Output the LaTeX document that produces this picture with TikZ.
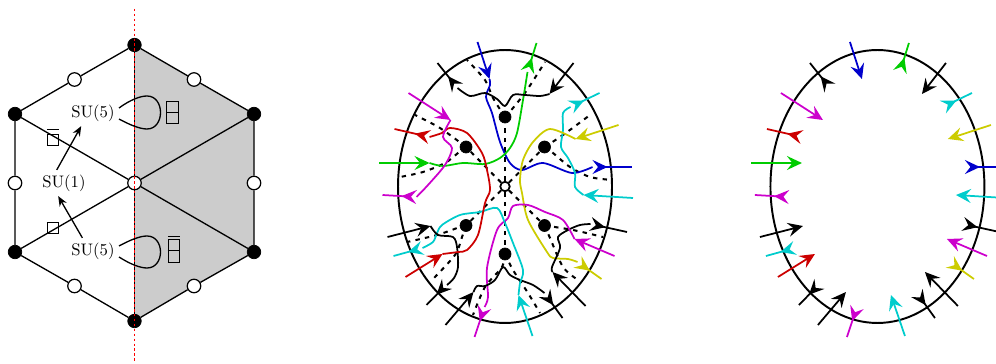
\documentclass[tikz,border=0pt]{standalone}
\usepackage{amsmath,amssymb}
\usepackage{tikz}
\usetikzlibrary{arrows.meta,shapes.geometric}

\definecolor{strblue}{rgb}{0,0,0.8}
\definecolor{strgreen}{rgb}{0,0.8,0}
\definecolor{strred}{rgb}{0.8,0,0}
\definecolor{strcyan}{rgb}{0,0.8,0.8}
\definecolor{strmagenta}{rgb}{0.8,0,0.8}
\definecolor{stryellow}{rgb}{0.8,0.8,0}

\tikzset{
	bdot/.style={circle,fill=black,draw=black,inner sep=0pt,minimum size=0.27cm},
	wdot/.style={circle,fill=white,draw=black,line width=0.7pt,inner sep=0pt,minimum size=0.27cm},
	hexline/.style={line width=0.75pt},
	redline/.style={red,line width=0.85pt,dash pattern=on 1.4pt off 1.4pt},
	lab/.style={inner sep=2.5pt,font=\fontsize{9.5}{11}\selectfont},
	disc/.style={draw,ellipse,line width=1.1pt,minimum width=4.28cm,minimum height=5.46cm,inner sep=0pt},
	gridline/.style={line width=1.15pt,dash pattern=on 2.5pt off 3pt},
	strand/.style={line width=1pt,line join=round},
	legtip/.tip={Stealth[length=0.3cm,width=0.28cm,inset=0.11cm]}
}

\setlength{\fboxsep}{0pt}
\setlength{\fboxrule}{0.5pt}
\newcommand{\yngone}{\fbox{\rule{0pt}{5.9pt}\rule{5.9pt}{0pt}}}
\newcommand{\yngtwo}{\vbox{\hbox{\yngone}\nointerlineskip\kern-0.5pt\hbox{\yngone}}}

% Legs that both discs share
\newcommand{\inlegs}{
	\foreach \col/\xa/\ya/\xb/\yb in {
		strblue/477.5/42/489.5/79,
		strgreen/379/163/429.5/163,
		black/573.5/63/549.5/94,
		strcyan/633/198/583.5/195,
		stryellow/618.5/125/575.5/139,
		black/585.5/306/552.5/272,
		strmagenta/614.5/256/574.5/239,
		black/445.5/325/473.5/292,
		strcyan/532.5/336/518.5/295,
		black/387.5/237/430.5/226,
		strred/405.5/277/442.5/254,
		strmagenta/408.5/93/450.5/120}
		\draw[strand,\col,-{legtip}] (\xa,\ya) -- (\xb,\yb);
}
\newcommand{\outlegs}{
	\foreach \col/\xa/\ya/\xb/\yb in {
		strblue/592.5/167/632/167,
		strgreen/527.5/72/536.5/43,
		black/457.5/88/437.5/63,
		strcyan/570.5/107/599.5/93,
		stryellow/577.5/262/601.5/279,
		black/590.5/224/627/232,
		black/544.5/293/562.5/318,
		strmagenta/484.5/307/474.5/337,
		black/447/284/426.5/305,
		strcyan/422.5/248/393.5/256,
		strred/429.5/137/394.5/129,
		strmagenta/416.5/197/382.5/195}
		\draw[strand,\col,{legtip[reversed]}-] (\xa,\ya) -- (\xb,\yb);
}

\begin{document}
\begin{tikzpicture}[x=0.02cm,y=-0.02cm]
	\useasboundingbox (0,0) rectangle (996,364);

	% Shaded half
	\fill[black!20] (134.5,45) -- (254,114) -- (254,252) -- (134.5,321) -- cycle;

	% Hexagon vertices
	\node[bdot] (vtop) at (134.5,45) {};
	\node[bdot] (vul) at (15,114) {};
	\node[bdot] (vll) at (15,252) {};
	\node[bdot] (vbot) at (134.5,321) {};
	\node[bdot] (vlr) at (254,252) {};
	\node[bdot] (vur) at (254,114) {};

	% Edge midpoints and center
	\node[wdot] (mul) at (74.5,79.5) {};
	\node[wdot] (ml) at (15,183) {};
	\node[wdot] (mll) at (74.5,286) {};
	\node[wdot] (mlr) at (194,286) {};
	\node[wdot] (mr) at (254,183) {};
	\node[wdot] (mur) at (194,79.5) {};
	\node[wdot] (cen) at (134.5,183) {};

	% Edges
	\draw[hexline] (vtop) -- (mul) -- (vul) -- (ml) -- (vll) -- (mll) -- (vbot) -- (mlr) -- (vlr) -- (mr) -- (vur) -- (mur) -- (vtop);
	\draw[hexline] (vul) -- (cen) -- (vlr);
	\draw[hexline] (vll) -- (cen) -- (vur);
	\draw[hexline] (vtop) -- (cen) -- (vbot);

	% Reflection line
	\coordinate (rtop) at (134.5,9);
	\coordinate (rbot) at (134.5,361);
	\draw[redline] (rtop) -- (rbot);

	% Labels
	\node[lab] (sua) at (93,113) {SU(5)};
	\node[lab] (sub) at (64,183) {SU(1)};
	\node[lab] (suc) at (93,251) {SU(5)};
	\node[inner sep=0pt] (boxa) at (53,137) {$\overline{\vbox{\kern1pt\hbox{\yngone}}}$};
	\node[inner sep=0pt] (boxb) at (53,228) {\yngone};
	\node[inner sep=0pt] (boxc) at (172.5,112.5) {\yngtwo};
	\node[inner sep=0pt] (boxd) at (174,249) {$\overline{\yngtwo}$};

	% Arrows and loops
	\draw[-{Stealth[length=0.2cm,width=0.16cm]},hexline] (sub.119) -- (sua.228);
	\draw[-{Stealth[length=0.2cm,width=0.16cm]},hexline] (suc.129) -- (sub.246);
	\coordinate (loopa) at (119,108);
	\coordinate (loopb) at (119,119);
	\coordinate (loopc) at (119,246);
	\coordinate (loopd) at (119,257);
	\draw[hexline] (loopa) .. controls (130,100) and (140,96) .. (147,96) .. controls (165,96) and (165,129) .. (147,129) .. controls (140,129) and (130,125) .. (loopb);
	\draw[hexline] (loopc) .. controls (130,240) and (140,236) .. (147,236) .. controls (165,236) and (165,268) .. (147,268) .. controls (140,268) and (130,264) .. (loopd);

	% Middle disc
	\node[disc] (disca) at (505,186.5) {};

	% Dots
	\node[bdot,minimum size=0.24cm] (da) at (505,117) {};
	\node[bdot,minimum size=0.24cm] (db) at (466,147) {};
	\node[bdot,minimum size=0.24cm] (dc) at (544.5,147) {};
	\node[bdot,minimum size=0.24cm] (dd) at (466,225.5) {};
	\node[bdot,minimum size=0.24cm] (de) at (505,254) {};
	\node[bdot,minimum size=0.24cm] (df) at (544.5,225.5) {};
	\node[wdot,line width=1pt,minimum size=0.19cm] (dcen) at (505,186.5) {};

	% Dashed grid
	\foreach \dn in {da,db,dc,dd,de,df}
		\draw[gridline] (dcen) -- (\dn);
	\draw[gridline] plot[smooth] coordinates {(da) (493,98) (485,80) (467,60)};
	\draw[gridline] plot[smooth] coordinates {(da) (513,108) (527,90) (545,62)};
	\draw[gridline] plot[smooth] coordinates {(db) (440,128) (415,115)};
	\draw[gridline] plot[smooth] coordinates {(db) (458,153) (445,163) (423,172) (400,177)};
	\draw[gridline] plot[smooth] coordinates {(dc) (563,135) (590,115)};
	\draw[gridline] plot[smooth] coordinates {(dc) (553,153) (570,167) (590,177) (612,180)};
	\draw[gridline] plot[smooth] coordinates {(dd) (460,227) (437,235) (407,242)};
	\draw[gridline] plot[smooth] coordinates {(dd) (462,237) (455,255) (432,280)};
	\draw[gridline] plot[smooth] coordinates {(de) (502,267) (485,287) (473,315)};
	\draw[gridline] plot[smooth] coordinates {(de) (513,270) (528,293) (540,313)};
	\draw[gridline] plot[smooth] coordinates {(df) (573,230) (603,237)};
	\draw[gridline] plot[smooth] coordinates {(df) (550,238) (563,267) (578,280)};

	% Strands
	\draw[strand,strblue] plot[smooth] coordinates {(489.5,79) (490,85) (486,97) (492,113) (500,142) (510,163) (522,170) (543,163) (572,173) (592.5,167)};
	\draw[strand,strgreen] plot[smooth] coordinates {(429.5,163) (443,166) (463,163) (485,164) (500,158) (510,148) (517,133) (523,100) (527.5,72)};
	\draw[strand,black] plot[smooth] coordinates {(549.5,94) (540,96) (525,95) (513,95) (505,106) (497,99) (485,93) (470,96) (457.5,88)};
	\draw[strand,strcyan] plot[smooth] coordinates {(583.5,195) (575,187) (575,173) (568,158) (561,147) (563,130) (563,113) (570.5,107)};
	\draw[strand,stryellow] plot[smooth] coordinates {(575.5,139) (550,129) (533,142) (523,160) (520,180) (522,193) (528,220) (547,252) (553,258) (568,259) (577.5,262)};
	\draw[strand,black] plot[smooth] coordinates {(552.5,272) (552,267) (560,248) (558,237) (568,230) (580,225) (590.5,224)};
	\draw[strand,strmagenta] plot[smooth] coordinates {(574.5,239) (563,220) (545,212) (528,205) (513,206) (508,218) (497,230) (487,268) (488,297) (484.5,307)};
	\draw[strand,black] plot[smooth] coordinates {(473.5,292) (477,286) (485,286) (495,280) (503,267) (510,275) (520,280) (533,285) (544.5,293)};
	\draw[strand,strcyan] plot[smooth] coordinates {(518.5,295) (520,283) (523,270) (513,243) (505,223) (497,208) (480,212) (460,215) (442,225) (437,233) (433,242) (422.5,248)};
	\draw[strand,black] plot[smooth] coordinates {(430.5,226) (438,235) (453,237) (457,247) (458,267) (454,278) (447,285)};
	\draw[strand,strred] plot[smooth] coordinates {(442.5,254) (458,252) (467,250) (478,235) (485,203) (490,190) (487,170) (482,153) (467,133) (450,128) (442,133) (429.5,137)};
	\draw[strand,strmagenta] plot[smooth] coordinates {(450.5,120) (443,137) (452,148) (445,165) (428,185) (416.5,197)};
	\inlegs
	\outlegs

	% Right disc
	\begin{scope}[xshift=7.45cm]
		\node[disc] (discb) at (505,186.5) {};
		\inlegs
		\outlegs
	\end{scope}

\end{tikzpicture}
\end{document}
